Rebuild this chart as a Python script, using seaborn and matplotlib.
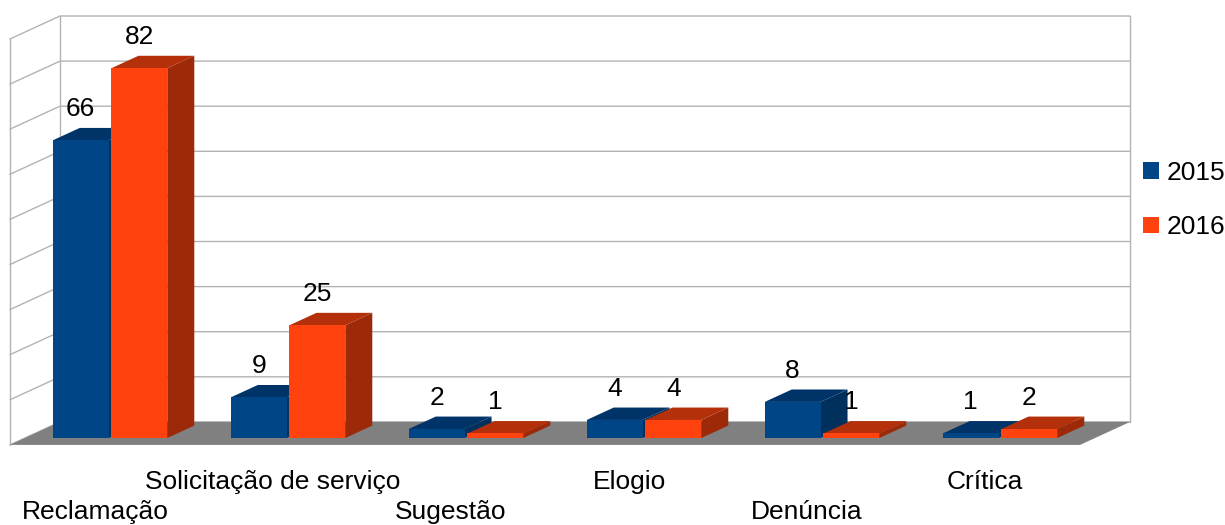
import matplotlib
matplotlib.use("Agg")
import matplotlib.pyplot as plt
from matplotlib.patches import Polygon
import pandas as pd
import seaborn as sns

CATEGORIES = ["Reclamação", "Solicitação de serviço", "Sugestão", "Elogio", "Denúncia", "Crítica"]
YEARS = ["2015", "2016"]
VALUES_2015 = [66, 9, 2, 4, 8, 1]
VALUES_2016 = [82, 25, 1, 4, 1, 2]
GRID_TICKS = list(range(0, 100, 10))

FRONT = {"2015": "#004586", "2016": "#ff420e"}
SIDE = {"2015": "#00305d", "2016": "#9c2a09"}
TOP = {"2015": "#003468", "2016": "#b3300a"}
GRID = "#b3b3b3"
FS = 19

# fake depth: z=0 front of the floor, z=1 back wall; bars sit between Z_BAR0 and Z_BAR1
DX, DY = 0.281, 5.1
Z_BAR0, Z_BAR1 = 0.3, 0.84
X_LEFT, X_RIGHT = -0.478, 5.534


def proj(x, y, z):
    return (x + (z - Z_BAR0) * DX, y + (z - Z_BAR0) * DY)


def main():
    sns.set_style("white")
    plt.rcParams["font.family"] = ["Liberation Sans", "DejaVu Sans"]
    plt.rcParams["text.color"] = "black"

    df = pd.DataFrame({
        "category": CATEGORIES * 2,
        "year": [YEARS[0]] * len(CATEGORIES) + [YEARS[1]] * len(CATEGORIES),
        "value": VALUES_2015 + VALUES_2016,
    })

    fig = plt.figure(figsize=(12.25, 5.25), dpi=100)
    ax = fig.add_axes([0, 0, 1, 1])
    sns.barplot(data=df, x="category", y="value", hue="year", hue_order=YEARS,
                palette=FRONT, width=0.66, gap=0.05, saturation=1, linewidth=0,
                zorder=3, ax=ax)
    bars = list(ax.patches)
    ax.set_xlim(-0.618, 6.264)
    ax.set_ylim(-19.29, 97.12)
    ax.axis("off")

    # walls and floor ---------------------------------------------------------
    top = GRID_TICKS[-1]
    for t in GRID_TICKS:
        xs, ys = zip(proj(X_LEFT, t, 0), proj(X_LEFT, t, 1), proj(X_RIGHT, t, 1))
        ax.plot(xs, ys, color=GRID, lw=1, zorder=0.5)
    for x, z in [(X_LEFT, 0), (X_LEFT, 1), (X_RIGHT, 1)]:
        xs, ys = zip(proj(x, 0, z), proj(x, top, z))
        ax.plot(xs, ys, color=GRID, lw=1, zorder=0.5)
    floor = [proj(X_LEFT, 0, 0), proj(X_RIGHT, 0, 0), proj(X_RIGHT, 0, 1), proj(X_LEFT, 0, 1)]
    ax.add_patch(Polygon(floor, closed=True, facecolor="#808080", edgecolor="none", zorder=1))

    # depth faces of the bars -------------------------------------------------
    n = len(CATEGORIES)
    for i, bar in enumerate(bars[:2 * n]):
        year = YEARS[i // n]
        x0, w, h = bar.get_x(), bar.get_width(), bar.get_height()
        x1 = x0 + w
        z = 2 + 0.5 * (i // n)
        side = [proj(x1, 0, Z_BAR0), proj(x1, h, Z_BAR0), proj(x1, h, Z_BAR1), proj(x1, 0, Z_BAR1)]
        topf = [proj(x0, h, Z_BAR0), proj(x1, h, Z_BAR0), proj(x1, h, Z_BAR1), proj(x0, h, Z_BAR1)]
        ax.add_patch(Polygon(side, closed=True, facecolor=SIDE[year], edgecolor="none", zorder=z))
        ax.add_patch(Polygon(topf, closed=True, facecolor=TOP[year], edgecolor="none", zorder=z))
        ax.text(x0 + w / 2, h + 5.4, f"{int(h)}", ha="center", va="baseline",
                fontsize=FS, color="black", zorder=5)

    # category labels, staggered ----------------------------------------------
    for i, cat in enumerate(CATEGORIES):
        y = -17.96 if i % 2 == 0 else -11.31
        ax.text(proj(i, 0, 0)[0], y, cat, ha="center", va="baseline",
                fontsize=FS, color="black")

    sns.move_legend(ax, "center left", bbox_to_anchor=(0.933, 0.619),
                    bbox_transform=fig.transFigure, title=None, frameon=False,
                    fontsize=FS, handlelength=0.6, handleheight=0.6,
                    handletextpad=0.3, labelspacing=1.15, borderaxespad=0, borderpad=0,
                    labelcolor="black")

    fig.savefig("out.png", dpi=100)
    plt.close(fig)


if __name__ == "__main__":
    main()
